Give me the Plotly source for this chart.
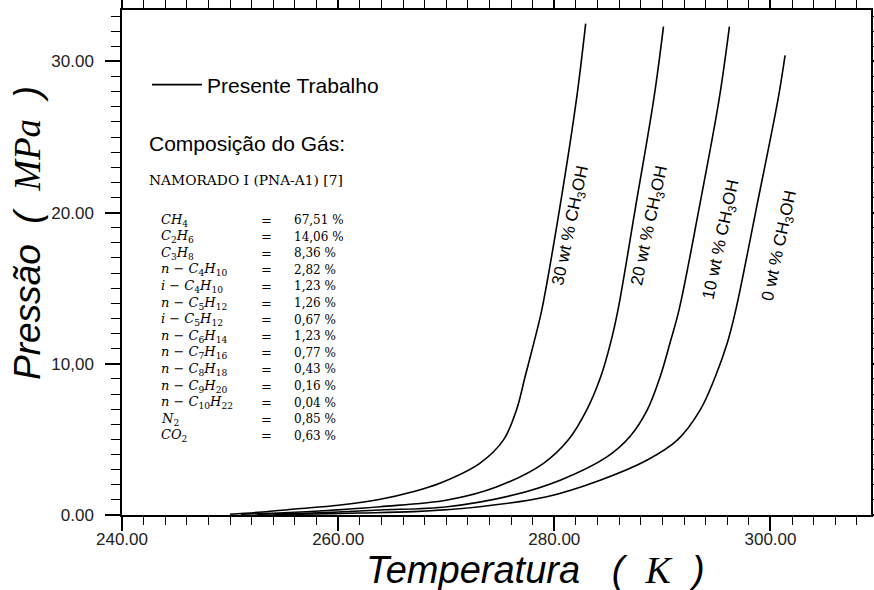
import plotly.graph_objects as go

# ---------------- data ----------------
t_30 = [250.0, 253.0, 256.0, 260.0, 263.9, 267.0, 269.4, 273.1, 275.3, 276.5, 277.3, 278.1, 278.85, 280.5, 282.05, 282.9]
p_30 = [0.05, 0.20, 0.40, 0.65, 1.04, 1.55, 2.10, 3.42, 4.97, 6.95, 9.16, 11.37, 13.6, 20.3, 27.5, 32.5]

t_20 = [251.0, 255.0, 259.0, 263.9, 270.1, 274.7, 279.0, 281.3, 283.0, 284.3, 285.2, 285.9, 287.5, 289.2, 290.1]
p_20 = [0.05, 0.15, 0.30, 0.55, 0.99, 1.87, 3.42, 4.97, 6.95, 9.16, 11.37, 13.6, 20.3, 27.5, 32.3]

t_10 = [252.5, 257.0, 260.0, 263.9, 270.1, 276.2, 280.6, 284.9, 287.0, 288.6, 289.8, 290.7, 291.55, 293.4, 295.25, 296.2]
p_10 = [0.05, 0.12, 0.20, 0.33, 0.55, 1.32, 2.32, 3.86, 5.19, 6.95, 9.16, 11.37, 13.6, 20.3, 27.5, 32.3]

t_0 = [254.0, 258.0, 262.0, 267.0, 273.1, 279.3, 284.3, 288.6, 291.4, 293.5, 294.9, 296.0, 296.8, 298.7, 300.7, 301.35]
p_0 = [0.03, 0.07, 0.13, 0.22, 0.55, 1.21, 2.32, 3.64, 4.97, 6.95, 9.16, 11.37, 13.6, 20.3, 27.5, 30.4]

curve_labels = ["30 wt % CH<sub>3</sub>OH", "20 wt % CH<sub>3</sub>OH",
                "10 wt % CH<sub>3</sub>OH", "0 wt % CH<sub>3</sub>OH"]

x_tickvals = [240, 260, 280, 300]
x_ticktext = ["240.00", "260.00", "280.00", "300.00"]
y_tickvals = [0, 10, 20, 30]
y_ticktext = ["0.00", "10,00", "20.00", "30.00"]

species = ["<i>CH</i><sub>4</sub>", "<i>C</i><sub>2</sub><i>H</i><sub>6</sub>",
           "<i>C</i><sub>3</sub><i>H</i><sub>8</sub>",
           "<i>n</i> − <i>C</i><sub>4</sub><i>H</i><sub>10</sub>",
           "<i>i</i> − <i>C</i><sub>4</sub><i>H</i><sub>10</sub>",
           "<i>n</i> − <i>C</i><sub>5</sub><i>H</i><sub>12</sub>",
           "<i>i</i> − <i>C</i><sub>5</sub><i>H</i><sub>12</sub>",
           "<i>n</i> − <i>C</i><sub>6</sub><i>H</i><sub>14</sub>",
           "<i>n</i> − <i>C</i><sub>7</sub><i>H</i><sub>16</sub>",
           "<i>n</i> − <i>C</i><sub>8</sub><i>H</i><sub>18</sub>",
           "<i>n</i> − <i>C</i><sub>9</sub><i>H</i><sub>20</sub>",
           "<i>n</i> − <i>C</i><sub>10</sub><i>H</i><sub>22</sub>",
           "<i>N</i><sub>2</sub>", "<i>CO</i><sub>2</sub>"]
fractions = ["67,51 %", "14,06 %", "8,36 %", "2,82 %", "1,23 %", "1,26 %", "0,67 %",
             "1,23 %", "0,77 %", "0,43 %", "0,16 %", "0,04 %", "0,85 %", "0,63 %"]

# ---------------- layout geometry ----------------
W, H = 874, 590
L, R, T, B = 122, 871, 10, 515
X_RANGE = [240, 309.3]
Y_RANGE = [0, 33.4]


def px(x):
    return (x - L) / (R - L)


def py(y):
    return (B - y) / (B - T)


SANS = "Liberation Sans, Arial, sans-serif"
SERIF = "DejaVu Serif, serif"

fig = go.Figure()
series = [(t_30, p_30, True), (t_20, p_20, False), (t_10, p_10, False), (t_0, p_0, False)]
for tx, pv, show in series:
    fig.add_trace(go.Scatter(x=tx, y=pv, mode="lines",
                             line=dict(color="black", width=1.6, shape="spline", smoothing=1.0),
                             name="Presente Trabalho", showlegend=show, hoverinfo="skip"))

annotations = []
# curve labels
label_pos = [(281.6, 19.1), (288.9, 19.1), (295.5, 18.2), (300.9, 17.8)]
for txt, (lx, ly) in zip(curve_labels, label_pos):
    annotations.append(dict(x=lx, y=ly, xref="x", yref="y", text=txt, showarrow=False,
                            textangle=-78, font=dict(family=SANS, size=17, color="black")))

annotations.append(dict(x=px(147), y=py(143), xref="paper", yref="paper", xanchor="left", yanchor="middle",
                        text="Composição do Gás:", showarrow=False,
                        font=dict(family=SANS, size=21, color="black")))
annotations.append(dict(x=px(147), y=py(180), xref="paper", yref="paper", xanchor="left", yanchor="middle",
                        text="NAMORADO I (PNA-A1) [7]", showarrow=False,
                        font=dict(family=SERIF, size=13.8, color="black")))
for i, (sp, fr) in enumerate(zip(species, fractions)):
    yy = py(220 + i * 16.6)
    annotations.append(dict(x=px(159), y=yy, xref="paper", yref="paper", xanchor="left", yanchor="middle",
                            text=sp, showarrow=False, font=dict(family=SERIF, size=13, color="black")))
    annotations.append(dict(x=px(266), y=yy, xref="paper", yref="paper", xanchor="center", yanchor="middle",
                            text="=", showarrow=False, font=dict(family=SERIF, size=13, color="black")))
    annotations.append(dict(x=px(292), y=yy, xref="paper", yref="paper", xanchor="left", yanchor="middle",
                            text=fr, showarrow=False, font=dict(family=SERIF, size=12, color="black")))

# axis titles
annotations.append(dict(x=px(28), y=py(233), xref="paper", yref="paper", xanchor="center", yanchor="middle",
                        textangle=-90, showarrow=False,
                        text="<i>Pressão</i>  <i>(</i>  <span style='font-family:Liberation Serif'><i>MPa</i></span>  <i>)</i>",
                        font=dict(family=SANS, size=37, color="black")))
annotations.append(dict(x=px(535), y=py(570), xref="paper", yref="paper", xanchor="center", yanchor="middle",
                        showarrow=False,
                        text="<i>Temperatura</i>   <i>(</i>  <span style='font-family:Liberation Serif'><i>K</i></span>  <i>)</i>",
                        font=dict(family=SANS, size=38, color="black")))

tickfont = dict(family=SANS, size=17, color="#222")
axline = dict(showline=True, linecolor="black", linewidth=1.5, showgrid=False, zeroline=False,
              mirror="allticks", automargin=False)
fig.update_layout(
    width=W, height=H,
    margin=dict(l=L, r=W - R, t=T, b=H - B, autoexpand=False),
    paper_bgcolor="white", plot_bgcolor="white",
    showlegend=True,
    legend=dict(x=px(147), y=py(85), xanchor="left", yanchor="middle", bgcolor="rgba(0,0,0,0)",
                itemwidth=50, font=dict(family=SANS, size=21, color="black")),
    annotations=annotations,
    xaxis=dict(range=X_RANGE, tickmode="array", tickvals=x_tickvals, ticktext=x_ticktext,
               ticks="outside", ticklen=14, tickwidth=1.5, tickcolor="black",
               minor=dict(dtick=2, tick0=240, ticks="outside", ticklen=8, tickwidth=1, tickcolor="black"),
               tickfont=tickfont, ticklabelstandoff=-6, **axline),
    yaxis=dict(range=Y_RANGE, tickmode="array", tickvals=y_tickvals, ticktext=y_ticktext,
               ticks="outside", ticklen=15, tickwidth=1.5, tickcolor="black",
               minor=dict(dtick=1, tick0=0, ticks="outside", ticklen=9, tickwidth=1, tickcolor="black"),
               tickfont=tickfont, ticklabelstandoff=8, **axline),
)

fig.write_html("out.html")
